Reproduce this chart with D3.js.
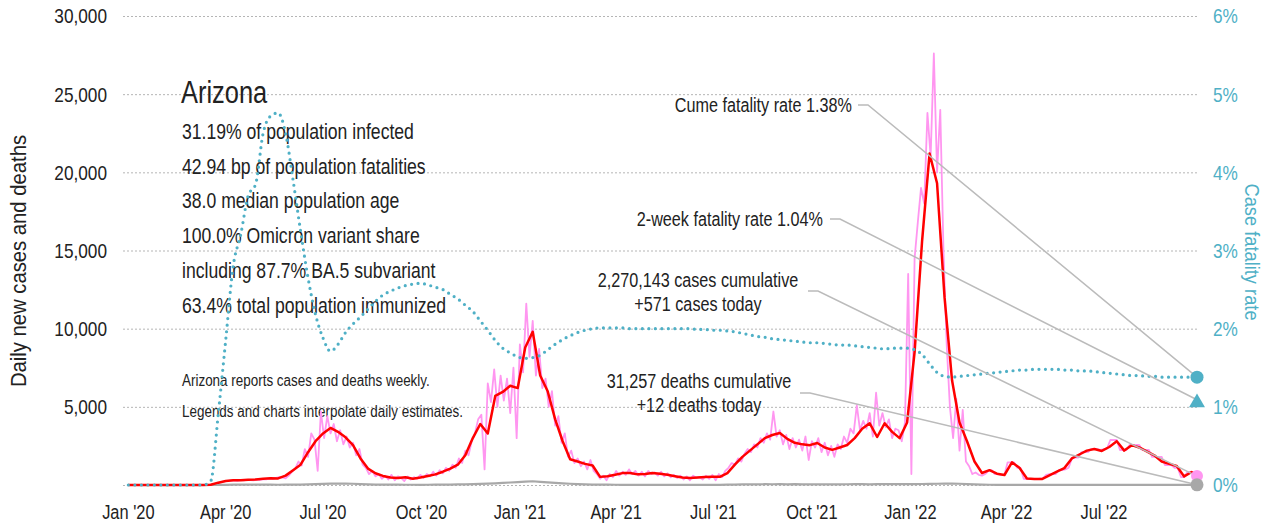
<!DOCTYPE html>
<html>
<head>
<meta charset="utf-8">
<script src="https://cdn.jsdelivr.net/npm/d3@7"></script>
<style>
  body { margin: 0; background: #fff; }
  svg { display: block; font-family: "Liberation Sans", Arial, sans-serif; }
  .grid line { stroke: #b5b5b5; stroke-width: 1; stroke-dasharray: 2,2; }
  .lbl { fill: #222; }
  .teal { fill: #4fb0c6; }
  .leader { fill: none; stroke: #bbb; stroke-width: 1.5; }
</style>
</head>
<body>
<svg width="1282" height="524"></svg>
<script>
// weekly series start 2020-01-01, pink raw series every 3 days from the same date
var startDate = new Date(2020, 0, 1);
var endDate = new Date(2022, 8, 26);

// smoothed daily new cases (weekly samples)
var casesAvg = [
  0,0,0,0,0,0,0,0,0,0,0,20,150,250,300,310,330,350,400,430,
  420,600,950,1300,2100,2800,3300,3650,3400,3050,2550,1700,1050,750,580,480,450,500,400,480,
  580,680,850,1050,1300,1900,3000,3900,3300,5700,5950,6350,6200,8800,9800,7000,6000,4200,2800,1650,
  1500,1350,1250,520,560,650,760,770,680,700,770,720,650,560,480,450,480,510,520,520,
  760,1300,1800,2200,2600,3000,3200,3330,2950,2700,2600,2550,2690,2400,2250,2400,2560,3000,3600,3950,
  3070,3950,3400,3000,4000,8500,15600,21200,19300,12000,6700,4000,2800,1500,770,950,720,640,1450,1100,
  420,380,380,620,850,1080,1700,1950,2200,2300,2180,2430,2800,2200,2550,2400,2150,1900,1500,1350,
  1220,550,830
];

// daily deaths (weekly samples)
var deathsAvg = [
  0,0,0,0,0,0,0,0,0,0,0,2,5,12,18,22,20,24,18,22,
  16,20,25,30,35,50,70,90,95,85,80,60,45,30,25,20,18,15,16,12,
  15,18,20,25,35,45,55,70,85,110,140,160,190,220,240,200,170,140,110,80,
  60,40,30,22,18,15,12,14,10,12,13,11,12,10,9,11,10,9,10,12,
  18,25,35,40,45,50,48,52,45,50,42,40,45,38,42,40,48,50,55,45,
  60,52,55,50,60,55,65,70,80,90,95,80,60,40,25,15,12,12,10,10,
  10,8,8,8,8,8,8,10,10,10,12,12,12,12,12,12,12,12,12,12,
  12,12,12
];

// case fatality rate, percent (weekly samples)
var fatalityRate = [
  0,0,0,0,0,0,0,0,0,0,0,0.05,0.9,1.85,2.8,3.2,3.7,3.85,4.5,4.72,
  4.76,4.5,3.9,3.25,2.65,2.18,1.88,1.71,1.8,1.95,2.06,2.15,2.25,2.35,2.43,2.48,2.52,2.55,2.57,2.58,
  2.56,2.53,2.5,2.44,2.38,2.3,2.22,2.1,1.98,1.85,1.75,1.69,1.64,1.62,1.63,1.66,1.73,1.8,1.86,1.91,
  1.95,1.98,2.0,2.01,2.01,2.01,2.01,2.0,2.0,2.0,2.0,2.0,2.0,2.0,2.0,2.0,1.99,1.99,1.98,1.98,
  1.97,1.96,1.94,1.92,1.9,1.89,1.87,1.86,1.85,1.84,1.83,1.82,1.82,1.81,1.8,1.79,1.79,1.78,1.77,1.76,
  1.75,1.74,1.75,1.75,1.75,1.73,1.67,1.55,1.44,1.39,1.38,1.39,1.4,1.41,1.42,1.43,1.44,1.45,1.46,1.47,
  1.47,1.48,1.48,1.48,1.48,1.47,1.47,1.46,1.46,1.45,1.44,1.43,1.42,1.41,1.4,1.4,1.39,1.39,1.38,1.38,
  1.38,1.38,1.38
];

// raw daily new cases, one value every 3 days
var casesRaw = [
  0,0,0,0,0,0,0,0,0,0, 0,0,0,0,0,0,0,0,0,0,
  0,0,0,0,0,10,30,60,120,180, 230,260,280,300,270,320,290,330,310,300,
  350,320,380,360,420,390,450,500,480,430, 600,850,1050,1500,1250,2300,1800,3300,2900,900,
  4700,3000,4400,3300,3900,2800,3500,2600,3100,2400, 2700,1900,2300,1300,1100,700,900,550,700,400,
  600,350,650,300,550,450,250,550,350,500, 400,650,450,700,550,850,600,950,750,1100,
  900,1300,1100,1700,1400,2200,1900,2800,3300,4200, 4500,1000,6500,5300,7400,5000,7000,5400,6800,4600,
  7500,3000,9000,7200,11600,8200,10500,7000,8700,6200, 6800,5000,6000,3800,4400,2700,3300,1800,2200,1400,
  1700,1200,1500,1000,1600,900,700,400,600,300, 700,500,900,600,850,650,1000,700,900,600,
  850,550,900,700,800,600,850,550,750,500, 650,450,600,350,550,300,600,450,500,350,
  600,400,650,300,700,500,900,1100,1400,1300, 1700,1500,2000,2300,2100,2600,2400,3000,2700,3300,
  2900,4700,3100,3500,2600,3200,2300,3000,2400,2900, 2200,3100,1600,2800,2400,3000,2100,2700,1900,2500,
  1800,2600,2300,3100,2700,3600,3300,5100,3500,4100, 3600,4600,3100,5900,3800,4600,3700,4200,3000,3600,
  3500,2800,4000,13500,700,14500,16800,19000,18000,23800, 21000,27600,20000,24000,15000,9000,5000,3000,5500,2200,
  4800,1500,1200,700,800,650,600,700,900,950, 700,700,650,650,1450,1450,1450,1100,1100,400,
  380,380,380,380,400,420,650,700,700,700, 960,960,1000,1100,1700,1750,1750,2100,2100,2100,
  2300,2300,2300,2250,2300,2350,2880,2880,2880,2240, 2240,2240,2560,2560,2560,2560,2240,2240,2240,1800,
  1800,1800,1800,1280,1280,1280,1100,1090,510,510, 830,830,700,571
];

var leftTicks = [0, 5000, 10000, 15000, 20000, 25000, 30000];
var rightTicks = [0, 1, 2, 3, 4, 5, 6];

var statLines = [
  "31.19% of population infected",
  "42.94 bp of population fatalities",
  "38.0 median population age",
  "100.0% Omicron variant share",
  "including 87.7% BA.5 subvariant",
  "63.4% total population immunized"
];
var noteLines = [
  "Arizona reports cases and deaths weekly.",
  "Legends and charts interpolate daily estimates."
];

var endCases = 571, endDeaths = 12, cumeRate = 1.38, twoWeekRate = 1.04;

var svg = d3.select("svg"),
    width = +svg.attr("width"),
    height = +svg.attr("height");

var plotL = 123, plotR = 1197, plotT = 16, plotB = 485;

var x = d3.scaleTime()
    .domain([d3.timeDay.offset(startDate, -5), endDate])
    .range([plotL, plotR]);
var y = d3.scaleLinear().domain([0, 30000]).range([plotB, plotT]);
var y2 = d3.scaleLinear().domain([0, 6]).range([plotB, plotT]);

// no condensed face installed: squeeze glyphs to roughly Arial Narrow width
function narrow(sel, k) {
  k = k || 0.82;
  sel.each(function() {
    var w = this.getComputedTextLength();
    d3.select(this).attr("textLength", w * k).attr("lengthAdjust", "spacingAndGlyphs");
  });
}

function weekly(arr, endVal) {
  var pts = arr.map(function(v, i) { return { date: d3.timeDay.offset(startDate, i * 7), v: v }; });
  pts.push({ date: endDate, v: endVal });
  return pts;
}

var rawPts = casesRaw.map(function(v, i) { return { date: d3.timeDay.offset(startDate, i * 3), v: v }; });
var avgPts = weekly(casesAvg, 650);
var deathPts = weekly(deathsAvg, endDeaths);
var ratePts = weekly(fatalityRate, cumeRate);

// grid
svg.append("g")
    .attr("class", "grid")
  .selectAll("line")
  .data(leftTicks)
  .enter().append("line")
    .attr("x1", plotL)
    .attr("x2", plotR)
    .attr("y1", function(d) { return y(d) + 0.5; })
    .attr("y2", function(d) { return y(d) + 0.5; });

// left axis labels
svg.append("g")
  .selectAll("text")
  .data(leftTicks.filter(function(d) { return d > 0; }))
  .enter().append("text")
    .attr("class", "lbl")
    .attr("x", 107)
    .attr("y", function(d) { return y(d); })
    .attr("dy", "0.35em")
    .attr("text-anchor", "end")
    .attr("font-size", 21)
    .text(d3.format(","))
    .call(narrow);

// right axis labels
svg.append("g")
  .selectAll("text")
  .data(rightTicks)
  .enter().append("text")
    .attr("class", "teal")
    .attr("x", 1213)
    .attr("y", function(d) { return y2(d); })
    .attr("dy", "0.35em")
    .attr("font-size", 21)
    .text(function(d) { return d + "%"; })
    .call(narrow);

// x axis labels
var xTicks = d3.timeMonth.range(startDate, endDate, 3);
svg.append("g")
  .selectAll("text")
  .data(xTicks)
  .enter().append("text")
    .attr("class", "lbl")
    .attr("x", function(d) { return x(d); })
    .attr("y", 512)
    .attr("dy", "0.35em")
    .attr("text-anchor", "middle")
    .attr("font-size", 20)
    .text(d3.timeFormat("%b '%y"))
    .call(narrow);

// axis titles
svg.append("text")
    .attr("class", "lbl")
    .attr("transform", "translate(18,261) rotate(-90)")
    .attr("dy", "0.35em")
    .attr("text-anchor", "middle")
    .attr("font-size", 22)
    .text("Daily new cases and deaths")
    .call(narrow, 0.92);

svg.append("text")
    .attr("class", "teal")
    .attr("transform", "translate(1252,252) rotate(90)")
    .attr("dy", "0.35em")
    .attr("text-anchor", "middle")
    .attr("font-size", 21)
    .text("Case fatality rate")
    .call(narrow, 0.87);

// text block
svg.append("text")
    .attr("class", "lbl")
    .attr("x", 181)
    .attr("y", 92)
    .attr("dy", "0.35em")
    .attr("font-size", 31)
    .text("Arizona")
    .call(narrow);

svg.append("g")
  .selectAll("text")
  .data(statLines)
  .enter().append("text")
    .attr("class", "lbl")
    .attr("x", 182)
    .attr("y", function(d, i) { return 131 + i * 34.8; })
    .attr("dy", "0.35em")
    .attr("font-size", 22)
    .text(function(d) { return d; })
    .call(narrow, 0.8);

svg.append("g")
  .selectAll("text")
  .data(noteLines)
  .enter().append("text")
    .attr("class", "lbl")
    .attr("x", 182)
    .attr("y", function(d, i) { return 380 + i * 31; })
    .attr("dy", "0.35em")
    .attr("font-size", 16)
    .text(function(d) { return d; })
    .call(narrow, 0.84);

// series
var line = d3.line()
    .x(function(d) { return x(d.date); })
    .y(function(d) { return y(d.v); });
var rateLine = d3.line()
    .x(function(d) { return x(d.date); })
    .y(function(d) { return y2(d.v); })
    .curve(d3.curveMonotoneX);

svg.append("path")
    .datum(rawPts)
    .attr("fill", "none")
    .attr("stroke", "#ff96f0")
    .attr("stroke-width", 1.8)
    .attr("stroke-linejoin", "round")
    .attr("d", line);

svg.append("path")
    .datum(deathPts)
    .attr("fill", "none")
    .attr("stroke", "#a8a8a8")
    .attr("stroke-width", 2.2)
    .attr("d", line);

svg.append("path")
    .datum(avgPts)
    .attr("fill", "none")
    .attr("stroke", "#ff0000")
    .attr("stroke-width", 2.5)
    .attr("stroke-linejoin", "round")
    .attr("d", line);

svg.append("path")
    .datum(ratePts)
    .attr("fill", "none")
    .attr("stroke", "#4fb0c6")
    .attr("stroke-width", 3.2)
    .attr("stroke-linecap", "round")
    .attr("stroke-dasharray", "0,6.5")
    .attr("d", rateLine);

// annotations with leader lines to the end markers
var xe = x(endDate);
var notes = [
  { lines: ["Cume fatality rate 1.38%"], tx: 852, ty: 105, anchor: "end", lx: 858, ly: 105, ex: xe, ey: y2(cumeRate) },
  { lines: ["2-week fatality rate 1.04%"], tx: 823, ty: 219, anchor: "end", lx: 830, ly: 219, ex: xe, ey: y2(twoWeekRate) - 4 },
  { lines: ["2,270,143 cases cumulative", "+571 cases today"], tx: 698, ty: 280, anchor: "middle", lx: 808, ly: 291, ex: xe, ey: y(endCases) },
  { lines: ["31,257 deaths cumulative", "+12 deaths today"], tx: 699, ty: 381, anchor: "middle", lx: 800, ly: 393, ex: xe, ey: y(endDeaths) }
];

notes.forEach(function(n) {
  svg.append("path")
      .attr("class", "leader")
      .attr("d", "M" + n.lx + "," + n.ly + "H" + (n.lx + 10) + "L" + n.ex + "," + n.ey);
  n.lines.forEach(function(t, i) {
    svg.append("text")
        .attr("class", "lbl")
        .attr("x", n.tx)
        .attr("y", n.ty + i * 24.5)
        .attr("dy", "0.35em")
        .attr("text-anchor", n.anchor)
        .attr("font-size", 19.5)
        .text(t)
        .call(narrow, 0.83);
  });
});

// end markers
svg.append("circle").attr("cx", xe).attr("cy", y(endCases)).attr("r", 6).attr("fill", "#ff96f0");
svg.append("circle").attr("cx", xe).attr("cy", y(endDeaths)).attr("r", 6.5).attr("fill", "#a8a8a8");
svg.append("circle").attr("cx", xe).attr("cy", y2(cumeRate)).attr("r", 6.5).attr("fill", "#4fb0c6");
svg.append("path")
    .attr("transform", "translate(" + xe + "," + (y2(twoWeekRate) - 1) + ")")
    .attr("d", d3.symbol().type(d3.symbolTriangle).size(110))
    .attr("fill", "#4fb0c6");
</script>
</body>
</html>
